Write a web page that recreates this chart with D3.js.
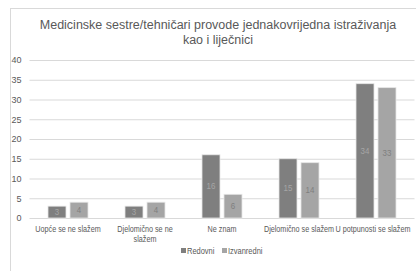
<!DOCTYPE html>
<html>
<head>
<meta charset="utf-8">
<script src="https://cdn.jsdelivr.net/npm/d3@7"></script>
<style>
  body { margin: 0; background: #fff; }
  svg { display: block; font-family: "Liberation Sans", Arial, sans-serif; }
</style>
</head>
<body>
<svg id="chart" width="416" height="271"></svg>
<script>
// chart data
const categories = [
	["Uopće se ne slažem"],
	["Djelomično se ne", "slažem"],
	["Ne znam"],
	["Djelomično se slažem"],
	["U potpunosti se slažem"]
];
const seriesNames = ["Redovni", "Izvanredni"];
const redovni = [3, 3, 16, 15, 34];
const izvanredni = [4, 4, 6, 14, 33];
const yTicks = [0, 5, 10, 15, 20, 25, 30, 35, 40];
const titleLines = ["Medicinske sestre/tehničari provode jednakovrijedna istraživanja", "kao i liječnici"];

const colors = ["#7f7f7f", "#a5a5a5"];
const labelColors = ["#a6a6a6", "#7f7f7f"];
const squeeze = 0.88; // source font is a narrow one

const svg = d3.select('#chart');

// outer frame
svg.append('rect')
	.attr('x', 10.5).attr('y', 8.5)
	.attr('width', 420).attr('height', 270)
	.attr('fill', '#fff')
	.attr('stroke', '#d9d9d9');

// title
svg.append('g').selectAll('text')
	.data(titleLines)
	.join('text')
	.attr('x', 218)
	.attr('y', (d, i) => 29 + i * 15)
	.attr('text-anchor', 'middle')
	.attr('font-size', 12.5)
	.attr('fill', '#595959')
	.text(d => d);

const x0 = d3.scaleBand()
	.domain(d3.range(categories.length))
	.range([29.5, 414.5]);

const y = d3.scaleLinear()
	.domain([0, 40])
	.range([218, 60]);

// gridlines + y labels
const yAxis = svg.append('g')
	.call(d3.axisLeft(y).tickValues(yTicks).tickSize(-(x0.range()[1] - x0.range()[0])).tickPadding(8))
	.attr('transform', `translate(${x0.range()[0]},0)`);
yAxis.select('.domain').remove();
yAxis.selectAll('.tick line').attr('stroke', '#d9d9d9');
yAxis.selectAll('.tick text')
	.attr('fill', '#595959')
	.attr('font-size', 9)
	.attr('font-family', '"Liberation Sans", Arial, sans-serif');

// bars
const barW = 18, gap = 4;
const groups = svg.append('g').selectAll('g')
	.data(categories.map((c, i) => [redovni[i], izvanredni[i]]))
	.join('g')
	.attr('transform', (d, i) => `translate(${x0(i) + x0.bandwidth() / 2 - barW - gap / 2},0)`);

groups.selectAll('rect')
	.data(d => d)
	.join('rect')
	.attr('x', (d, j) => j * (barW + gap))
	.attr('y', d => y(d))
	.attr('width', barW)
	.attr('height', d => y(0) - y(d))
	.attr('fill', (d, j) => colors[j])
	.attr('stroke', '#e6e6e6')
	.attr('stroke-width', 0.8);

groups.selectAll('text')
	.data(d => d)
	.join('text')
	.attr('transform', (d, j) => `translate(${j * (barW + gap) + barW / 2},${(y(d) + y(0)) / 2 + 3}) scale(${squeeze},1)`)
	.attr('text-anchor', 'middle')
	.attr('font-size', 9)
	.attr('fill', (d, j) => labelColors[j])
	.text(d => d);

// category labels (last one sits a bit left of its band centre, like the source)
const labelShift = [0, 0, 0, 0, -3];
svg.append('g').selectAll('text')
	.data(categories.flatMap((lines, i) => lines.map((t, k) => ({ t, i, k }))))
	.join('text')
	.attr('transform', d => `translate(${x0(d.i) + x0.bandwidth() / 2 + labelShift[d.i]},${232 + d.k * 10}) scale(${squeeze},1)`)
	.attr('text-anchor', 'middle')
	.attr('font-size', 8.2)
	.attr('fill', '#595959')
	.text(d => d.t);

// legend
const legend = svg.append('g').attr('transform', 'translate(181,251)');
const legX = [0, 41];
seriesNames.forEach((name, i) => {
	legend.append('rect')
		.attr('x', legX[i]).attr('y', -3)
		.attr('width', 5).attr('height', 5)
		.attr('fill', colors[i]);
	legend.append('text')
		.attr('transform', `translate(${legX[i] + 6},3) scale(${squeeze},1)`)
		.attr('font-size', 8.5)
		.attr('fill', '#595959')
		.text(name);
});
</script>
</body>
</html>
